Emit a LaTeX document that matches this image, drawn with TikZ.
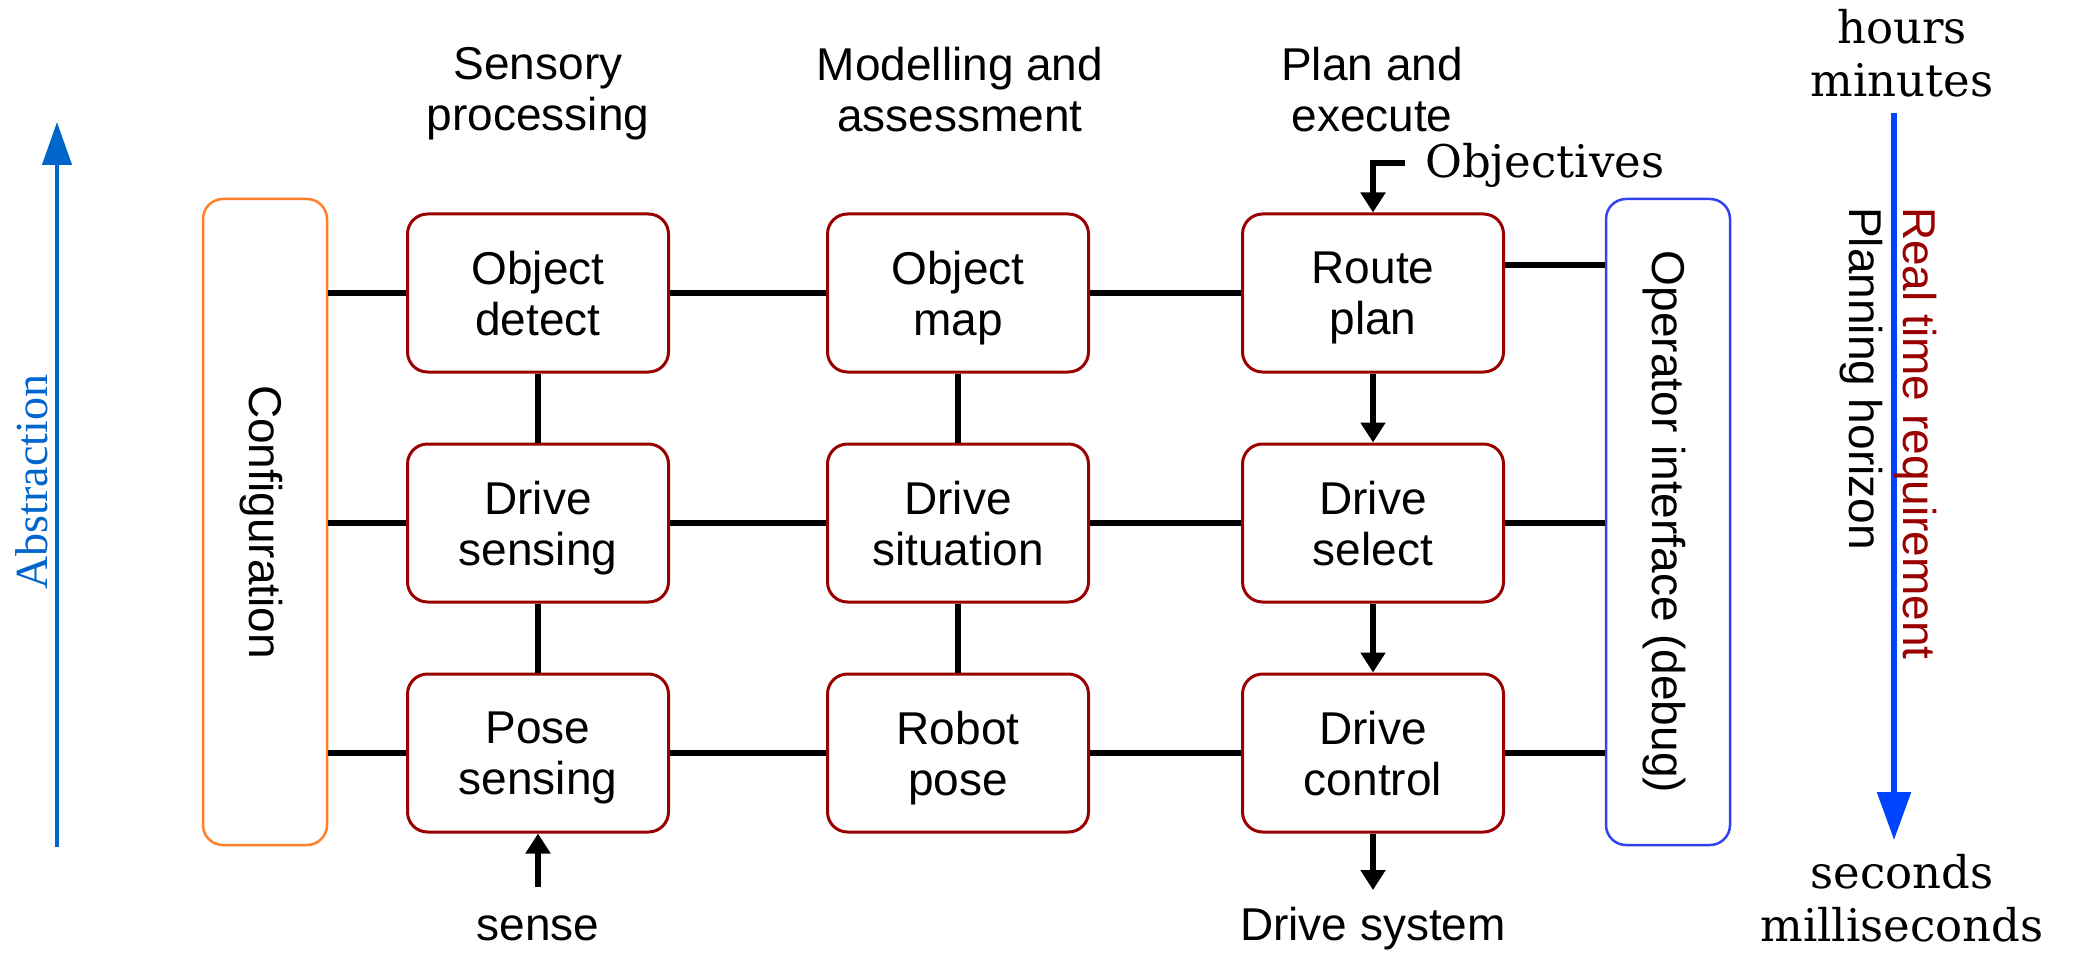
\documentclass[tikz,border=0pt]{standalone}
\usepackage{fontspec}
\setmainfont{Liberation Sans}
\newfontfamily\dvserif{DejaVu Serif}
\newfontfamily\tmserif{Liberation Serif}
\usetikzlibrary{arrows.meta}
\definecolor{boxred}{RGB}{153,0,0}
\definecolor{cfgorange}{RGB}{255,127,42}
\definecolor{opblue}{RGB}{51,68,238}
\definecolor{timeblue}{RGB}{0,68,255}
\definecolor{absblue}{RGB}{0,102,204}
\newcommand\sfbig{\fontsize{46}{51}\selectfont}
\newcommand\serbig{\dvserif\fontsize{45}{53}\selectfont}
\newcommand\absfont{\tmserif\fontsize{46}{52}\selectfont}
\begin{document}
\begin{tikzpicture}[x=1pt,y=-1pt,
  blk/.style={draw=boxred, line width=3pt, rounded corners=20pt, minimum width=261pt, minimum height=158pt, inner sep=0pt, align=center, font=\sfbig},
  side/.style={line width=2.5pt, rounded corners=20pt, rotate=-90, minimum width=646pt, minimum height=124pt, inner sep=0pt, text height=36pt, text depth=4pt, font=\sfbig},
  conn/.style={line width=5.5pt},
  arr/.style={line width=5.5pt, -{Triangle[length=20pt,width=24pt]}},
  txt/.style={inner sep=0pt, align=center, font=\sfbig},
  ser/.style={inner sep=0pt, align=center, font=\serbig}]

\path[fill=white] (0,0) rectangle (2082,960);

% side boxes
\node[side, draw=cfgorange] (cfg) at (265,522) {Configuration};
\node[side, draw=opblue] (op) at (1668,522) {Operator interface (debug)};

% grid
\node[blk] (od) at (538,293) {Object\\\smash{detect}};
\node[blk] (ds) at (538,523) {Drive\\\smash{sensing}};
\node[blk] (ps) at (538,753) {Pose\\\smash{sensing}};
\node[blk] (om) at (958,293) {Object\\\smash{map}};
\node[blk] (dsit) at (958,523) {Drive\\\smash{situation}};
\node[blk] (rp) at (958,753) {Robot\\\smash{pose}};
\node[blk] (rte) at (1373,293) {Route\\\smash{plan}};
\node[blk] (dsel) at (1373,523) {Drive\\\smash{select}};
\node[blk] (dc) at (1373,753) {Drive\\\smash{control}};

% headings
\node[txt, anchor=north] (h1) at (538,47) {Sensory\\\smash{processing}};
\node[txt, anchor=north] (h2) at (960,47) {Modelling and\\\smash{assessment}};
\node[txt, anchor=north] (h3) at (1372,47) {Plan and\\\smash{execute}};

% inputs / outputs
\node[ser, anchor=base west] (obj) at (1425,178) {Objectives};
\coordinate (objin) at (1405,163);
\draw[arr] (objin) -| (rte.north);
\node[txt, anchor=base] (sense) at (538,940) {sense};
\coordinate (sensein) at (538,887);
\draw[arr] (sensein) -- (ps.south);
\node[txt, anchor=base] (dsys) at (1373,940) {Drive system};
\coordinate (dsysout) at (1373,890);
\draw[arr] (dc.south) -- (dsysout);

% horizontal connectors
\foreach \a in {od,ds,ps} \draw[conn] (\a.west) -- (\a.west -| cfg.north);
\draw[conn] (od) -- (om);
\draw[conn] (om) -- (rte);
\draw[conn] (ds) -- (dsit);
\draw[conn] (dsit) -- (dsel);
\draw[conn] (ps) -- (rp);
\draw[conn] (rp) -- (dc);
\draw[conn] ([yshift=28pt]rte.east) -- ([yshift=28pt]rte.east -| op.south);
\draw[conn] (dsel.east) -- (dsel.east -| op.south);
\draw[conn] (dc.east) -- (dc.east -| op.south);

% vertical connectors
\draw[conn] (od) -- (ds);
\draw[conn] (ds) -- (ps);
\draw[conn] (om) -- (dsit);
\draw[conn] (dsit) -- (rp);
\draw[arr] (rte) -- (dsel);
\draw[arr] (dsel) -- (dc);

% time scale
\node[ser, anchor=north] (hrs) at (1902,9) {hours\\\smash{minutes}};
\node[ser, anchor=north] (secs) at (1902,854) {seconds\\\smash{milliseconds}};
\coordinate (tstart) at (1894,113);
\coordinate (tend) at (1894,840);
\draw[line width=5.5pt, timeblue, -{Triangle[length=48pt,width=33pt]}] (tstart) -- (tend);
\node[font=\sfbig, text=boxred, rotate=-90, anchor=base west, inner sep=0pt] (rtr) at (1903,207) {Real time requirement};
\node[font=\sfbig, rotate=-90, anchor=base west, inner sep=0pt] (plh) at (1849,207) {Planning horizon};

% abstraction
\coordinate (abot) at (57,847);
\coordinate (atop) at (57,122);
\draw[line width=4.5pt, absblue, -{Triangle[length=43pt,width=29pt]}] (abot) -- (atop);
\node[font=\absfont, text=absblue, rotate=90, anchor=base, inner sep=0pt] (abs) at (47,482) {Abstraction};
\end{tikzpicture}
\end{document}
